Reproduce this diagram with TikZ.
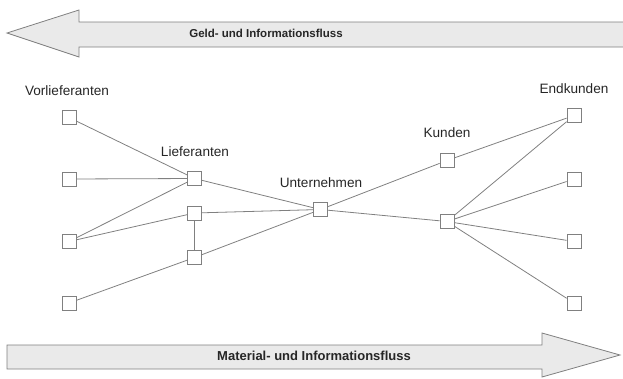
\documentclass[tikz,border=0pt]{standalone}
\usepackage{fontspec}
\setmainfont{Liberation Sans}
\definecolor{linegray}{HTML}{808080}
\definecolor{arrowfill}{HTML}{EAEAEA}
\definecolor{txt}{HTML}{262626}
\begin{document}
\begin{tikzpicture}[x=1pt,y=-1pt,
  box/.style={draw=linegray,fill=white,minimum size=14pt,inner sep=0pt,line width=0.8pt},
  conn/.style={draw=linegray,line width=0.8pt},
  lbl/.style={font=\fontsize{13.6}{15}\selectfont,text=txt,inner sep=0pt},
  blbl/.style={font=\fontsize{11.5}{13}\selectfont\bfseries,text=txt,inner sep=0pt},
  blblb/.style={font=\fontsize{13}{15}\selectfont\bfseries,text=txt,inner sep=0pt},
  flow/.style={fill=arrowfill,draw=linegray,line width=0.8pt}]
\useasboundingbox (0,0) rectangle (623,378);
% top arrow
\fill[arrowfill] (7,33) -- (79,10) -- (79,22) -- (623,22) -- (623,47) -- (79,47) -- (79,57) -- cycle;
\draw[linegray,line width=0.8pt] (623,22) -- (79,22) -- (79,10) -- (7,33) -- (79,57) -- (79,47) -- (623,47);
\node[blbl] (geld) at (266,33) {Geld- und Informationsfluss};
% bottom arrow
\draw[flow] (7,345) -- (542,345) -- (542,333) -- (620,355) -- (542,377) -- (542,369) -- (7,369) -- cycle;
\node[blblb] (mat) at (314,356) {Material- und Informationsfluss};
% nodes
\node[box] (v1) at (69,117.5) {};
\node[box] (v2) at (69,179) {};
\node[box] (v3) at (69,241.5) {};
\node[box] (v4) at (69,303) {};
\node[box] (l1) at (194.5,178.5) {};
\node[box] (l2) at (194.5,213) {};
\node[box] (l3) at (194.5,257.5) {};
\node[box] (u) at (320.5,209.5) {};
\node[box] (k1) at (447,160.5) {};
\node[box] (k2) at (447,221.5) {};
\node[box] (e1) at (574,115.5) {};
\node[box] (e2) at (574,179) {};
\node[box] (e3) at (574,241.5) {};
\node[box] (e4) at (574,303) {};
% labels
\node[lbl] (tv) at (67,91) {Vorlieferanten};
\node[lbl] (tl) at (195,152) {Lieferanten};
\node[lbl] (tu) at (321,183) {Unternehmen};
\node[lbl] (tk) at (447,133) {Kunden};
\node[lbl] (te) at (574,89) {Endkunden};
% connectors
\path[conn] (v1) -- (l1);
\path[conn] (v2) -- (l1);
\path[conn] (v3) -- (l1);
\path[conn] (v3) -- (l2);
\path[conn] (v4) -- (l3);
\path[conn] (l2) -- (l3);
\path[conn] (l1) -- (u);
\path[conn] (l2) -- (u);
\path[conn] (l3) -- (u);
\path[conn] (u) -- (k1);
\path[conn] (u) -- (k2);
\path[conn] (k1) -- (e1);
\path[conn] (k2) -- (e1);
\path[conn] (k2) -- (e2);
\path[conn] (k2) -- (e3);
\path[conn] (k2) -- (e4);
\end{tikzpicture}
\end{document}
